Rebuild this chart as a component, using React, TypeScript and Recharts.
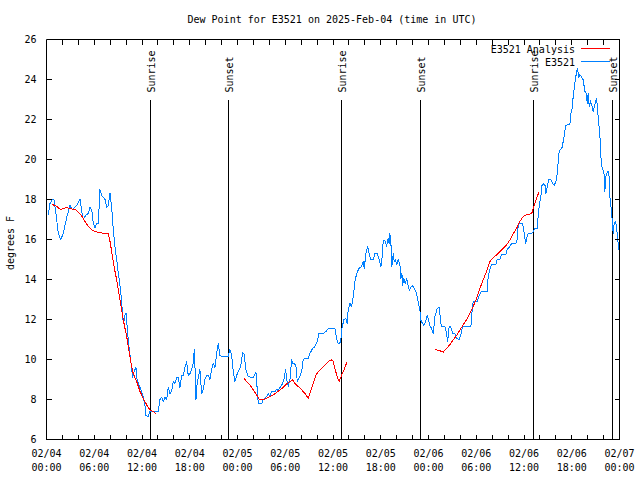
import React from 'react';
import { LineChart, Line, XAxis, YAxis, ReferenceLine } from 'recharts';

const FONT = "'DejaVu Sans Mono', 'Liberation Mono', monospace";

// Observed dew point (E3521), hours since 2025-02-04 00:00 UTC
const obsHours = [
  0.23, 0.44, 0.73, 0.94, 1.19, 1.48, 1.78, 2.11, 2.54, 2.95, 3.08, 3.29, 3.79, 4.21, 4.3, 4.5, 4.62, 4.92,
  5.25, 5.46, 5.68, 5.88, 6.09, 6.31, 6.51, 6.72, 6.93, 7.35, 7.56, 7.76, 7.98, 8.19, 8.39, 8.61, 8.82, 9.02,
  9.15, 9.45, 9.52, 9.65, 9.77, 9.9, 10.03, 10.15, 10.28, 10.4, 10.58, 10.7, 10.83, 11.0, 11.12, 11.24, 11.33,
  11.53, 11.75, 11.96, 12.16, 12.37, 12.5, 12.79, 12.91, 13.0, 14.05, 14.26, 14.47, 14.67, 14.89, 15.1, 15.3,
  15.52, 15.73, 15.93, 16.14, 16.36, 16.56, 16.77, 16.98, 17.19, 17.4, 17.61, 17.81, 18.03, 18.24, 18.44,
  18.57, 18.69, 18.78, 18.87, 19.07, 19.28, 19.49, 19.7, 19.91, 20.13, 20.33, 20.54, 20.75, 20.95, 21.17,
  21.38, 21.58, 21.8, 22.01, 22.84, 23.05, 23.27, 23.47, 23.68, 23.89, 24.22, 24.4, 24.65, 24.81, 25.06,
  25.35, 25.78, 25.98, 26.32, 26.48, 26.61, 27.04, 27.24, 27.66, 27.86, 28.08, 28.29, 28.71, 28.92, 29.12,
  29.33, 29.67, 29.84, 30.05, 30.18, 30.38, 30.59, 30.8, 30.93, 31.09, 31.34, 31.51, 31.85, 32.06, 32.26,
  32.47, 32.89, 33.1, 33.44, 33.73, 34.02, 34.23, 34.77, 35.11, 35.4, 36.24, 36.46, 36.66, 36.96, 37.12,
  37.37, 37.62, 37.79, 37.91, 38.13, 38.34, 38.54, 38.76, 38.97, 39.26, 39.6, 39.8, 39.92, 40.14, 40.35,
  40.55, 40.73, 41.06, 41.27, 41.56, 41.81, 42.02, 42.19, 42.31, 42.52, 42.74, 42.94, 43.06, 43.15, 43.28,
  43.4, 43.57, 43.69, 43.87, 43.99, 44.2, 44.41, 44.54, 44.66, 44.75, 44.91, 45.08, 45.25, 45.45, 45.58,
  45.75, 45.95, 46.17, 46.42, 46.63, 46.8, 46.92, 47.05, 47.26, 47.42, 47.64, 47.84, 48.02, 48.18, 48.39,
  48.59, 48.81, 49.1, 49.35, 49.6, 50.06, 50.28, 50.4, 50.6, 50.78, 51.03, 51.32, 51.53, 51.86, 52.04,
  52.29, 53.33, 53.55, 53.71, 54.12, 54.37, 54.62, 55.38, 55.5, 55.72, 55.93, 56.47, 56.63, 56.97, 57.19,
  57.73, 57.89, 58.23, 58.44, 58.98, 59.15, 59.27, 59.4, 59.82, 59.99, 60.2, 60.33, 60.53, 60.87, 61.08,
  61.37, 61.66, 61.83, 62.0, 62.13, 62.26, 62.42, 62.64, 62.76, 62.89, 63.09, 63.39, 63.59, 63.81, 64.02,
  64.22, 64.35, 64.57, 64.78, 65.05, 65.23, 65.77, 65.89, 66.06, 66.18, 66.39, 66.61, 66.73, 66.9, 67.02,
  67.19, 67.44, 67.65, 67.86, 67.94, 68.07, 68.19, 68.37, 68.57, 68.69, 68.91, 69.12, 69.32, 69.54, 69.66,
  69.82, 70.04, 70.16, 70.29, 70.5, 70.66, 70.79, 71.0, 71.13, 71.21, 71.33, 71.51, 71.63, 71.76, 71.92, 72.0,
];
const obsValues = [
  17.22, 17.8, 18.0, 18.0, 17.3, 16.3, 16.0, 16.3, 17.1, 17.7, 17.6, 17.5, 17.7, 18.0, 17.8, 17.2, 17.0, 17.2,
  17.3, 17.6, 17.5, 16.8, 16.6, 16.8, 16.8, 18.5, 18.2, 18.0, 17.6, 17.7, 18.3, 17.6, 16.5, 15.6, 15.0, 14.3,
  13.98, 12.9, 12.4, 11.8, 12.0, 12.3, 12.3, 11.5, 11.0, 10.5, 10.0, 9.5, 9.1, 9.4, 9.5, 9.6, 9.1,
  8.8, 8.6, 8.4, 8.1, 7.7, 7.2, 7.15, 7.3, 7.4, 7.4, 8.0, 8.1, 7.9, 8.1, 8.0, 8.6,
  8.3, 8.4, 8.9, 8.8, 9.1, 9.1, 8.6, 9.2, 9.2, 9.6, 9.9, 9.2, 9.3, 9.5, 9.8,
  10.5, 9.3, 8.0, 8.6, 9.1, 9.5, 8.3, 8.5, 9.0, 9.2, 9.2, 9.0, 9.5, 9.8, 9.6,
  10.3, 10.8, 10.2, 10.15, 10.15, 10.5, 10.2, 9.4, 8.9, 9.2, 9.5, 9.65, 10.35, 10.3, 9.5,
  9.15, 9.1, 9.1, 9.35, 8.5, 7.8, 7.8, 8.0, 8.15, 8.3, 8.15, 8.4, 8.4, 8.5, 8.45,
  8.6, 8.8, 9.0, 9.5, 9.0, 8.65, 9.0, 10.0, 9.8, 9.8, 9.7, 8.9, 9.15, 9.4, 10.0,
  10.05, 10.05, 10.3, 10.55, 10.65, 10.9, 11.3, 11.3, 11.4, 11.55, 11.55, 11.0, 10.8, 10.85, 11.55,
  12.0, 12.05, 11.8, 12.5, 12.8, 12.65, 13.15, 13.9, 14.3, 14.55, 14.65, 14.9, 14.55, 15.3, 15.65,
  15.3, 14.98, 14.98, 15.3, 15.3, 14.98, 14.65, 15.15, 15.95, 15.95, 15.7, 16.05, 15.8, 16.3, 15.8,
  14.65, 15.3, 14.9, 14.98, 14.73, 15.0, 14.73, 14.05, 14.3, 13.7, 14.05, 13.8, 14.05, 13.7, 13.45,
  13.6, 13.7, 13.6, 13.4, 13.05, 12.7, 12.45, 11.95, 11.8, 11.7, 11.9, 12.2, 11.95, 11.7, 11.55,
  11.3, 12.15, 12.55, 12.6, 11.65, 11.65, 11.3, 10.9, 11.65, 11.65, 11.3, 11.3, 11.05, 11.0, 11.2,
  11.65, 11.65, 12.8, 12.9, 12.9, 13.2, 13.4, 13.4, 14.15, 14.5, 14.75, 14.75, 15.0, 15.0, 15.25,
  15.25, 15.5, 15.65, 15.8, 15.8, 16.0, 16.7, 16.8, 16.8, 16.4, 15.8, 16.05, 16.3, 16.28, 16.35,
  16.55, 16.55, 17.4, 17.9, 18.2, 18.7, 18.78, 18.7, 18.3, 18.55, 18.98, 18.98, 18.8, 18.73, 18.9,
  19.4, 20.3, 20.5, 20.6, 21.15, 21.7, 21.78, 22.3, 22.55, 23.15, 23.8, 24.4, 24.5, 24.1, 24.25,
  24.15, 23.98, 23.4, 23.3, 22.8, 23.3, 22.65, 22.9, 22.65, 22.4, 22.75, 23.08, 22.15, 21.15, 20.15,
  19.55, 19.4, 18.4, 19.15, 19.4, 19.4, 18.15, 17.4, 16.65, 16.3, 16.8, 16.9, 16.65, 16.05, 15.55, 15.15,
];

// Analysis dew point (E3521 Analysis); null marks the gaps
const anaHours = [
  0.65, 0.85, 1.28, 1.78, 2.11, 2.54, 2.95, 3.37, 3.71, 3.99, 4.42, 4.84, 5.25, 5.68, 6.09, 6.63, 7.35, 7.76,
  7.98, 8.19, 8.39, 8.61, 8.82, 9.02, 9.23, 9.45, 9.65, 9.86, 10.08, 10.28, 10.49, 10.7, 10.9, 11.33, 11.75,
  12.16, 12.59, 13.0, 13.42, 13.76,
  19.0,
  24.81, 25.15, 25.57, 25.98, 26.41, 26.73, 27.24, 27.66, 28.08, 28.49, 28.92, 29.33, 29.75, 30.18, 30.59,
  30.93, 31.22, 31.63, 32.06, 32.47, 32.89, 33.1, 33.52, 33.86, 34.15, 34.57, 34.99, 35.4, 35.83, 36.03,
  36.24, 36.46, 36.66, 36.78, 37.09, 37.37, 37.79,
  43.0,
  48.81, 49.35, 49.85, 50.28, 50.69, 51.11, 51.53, 51.95, 52.36, 52.79, 53.2, 53.62, 54.05, 54.46, 54.87,
  55.3, 55.72, 56.13, 56.56, 56.97, 57.39, 57.81, 58.23, 58.64, 59.07, 59.48, 59.9, 60.33, 60.74, 61.03,
  61.16, 61.37, 61.58, 61.91,
];
const anaValues = [
  17.8, 17.73, 17.65, 17.5, 17.55, 17.6, 17.55, 17.5, 17.48, 17.35, 17.18, 16.9, 16.65, 16.48, 16.4, 16.35, 16.3, 16.28,
  15.9, 15.4, 14.9, 14.4, 13.98, 13.48, 12.98, 12.48, 11.98, 11.56, 11.14, 10.64, 10.14, 9.64, 9.3, 8.9, 8.4,
  8.06, 7.73, 7.48, 7.4, 7.3,
  null,
  9.06, 8.9, 8.73, 8.48, 8.23, 8.0, 8.0, 8.06, 8.15, 8.23, 8.36, 8.48, 8.6, 8.78, 8.9,
  8.98, 8.8, 8.65, 8.48, 8.3, 8.06, 8.3, 8.8, 9.23, 9.4, 9.56, 9.73, 9.9, 9.98, 9.9,
  9.56, 9.23, 8.98, 8.9, 9.23, 9.48, 9.9,
  null,
  10.5, 10.45, 10.37, 10.55, 10.75, 10.98, 11.2, 11.48, 11.73, 12.0, 12.3, 12.65, 13.06, 13.56, 13.98,
  14.4, 14.9, 15.1, 15.23, 15.4, 15.56, 15.73, 15.98, 16.28, 16.56, 16.9, 17.15, 17.23, 17.27, 17.35,
  17.56, 17.8, 18.06, 18.4,
];

const sunLabels = ['Sunrise', 'Sunset', 'Sunrise', 'Sunset', 'Sunrise', 'Sunset'];
const sunHours = [13.04, 22.84, 37.04, 46.96, 61.16, 71.08];

const xTicks = [0, 2, 4, 6, 8, 10, 12, 14, 16, 18, 20, 22, 24, 26, 28, 30, 32, 34, 36, 38, 40, 42, 44, 46, 48, 50, 52, 54, 56, 58, 60, 62, 64, 66, 68, 70, 72];
const xLabelHours = [0, 6, 12, 18, 24, 30, 36, 42, 48, 54, 60, 66, 72];
const xLabelDates = ['02/04', '02/04', '02/04', '02/04', '02/05', '02/05', '02/05', '02/05', '02/06', '02/06', '02/06', '02/06', '02/07'];
const xLabelTimes = ['00:00', '06:00', '12:00', '18:00', '00:00', '06:00', '12:00', '18:00', '00:00', '06:00', '12:00', '18:00', '00:00'];
const yTicks = [6, 8, 10, 12, 14, 16, 18, 20, 22, 24, 26];

const series = [
  { name: 'E3521 Analysis', color: '#ff0000' },
  { name: 'E3521', color: '#0080ff' },
];

const obsData = obsHours.map((h, i) => ({ h, v: obsValues[i] }));
const anaData = anaHours.map((h, i) => ({ h, v: anaValues[i] }));

const BottomTick = (props: any) => {
  const { x, y, payload } = props;
  const i = xLabelHours.indexOf(payload.value);
  return (
    <g>
      <line x1={x} y1={y} x2={x} y2={y - 5} stroke="#000" shapeRendering="crispEdges" />
      {i >= 0 && (
        <text x={x} y={y + 17} textAnchor="middle" fontFamily={FONT} fontSize={10} fill="#000">
          <tspan x={x}>{xLabelDates[i]}</tspan>
          <tspan x={x} dy={14}>{xLabelTimes[i]}</tspan>
        </text>
      )}
    </g>
  );
};

const TopTick = (props: any) => {
  const { x, y } = props;
  return <line x1={x} y1={y} x2={x} y2={y + 5} stroke="#000" shapeRendering="crispEdges" />;
};

const LeftTick = (props: any) => {
  const { x, y, payload } = props;
  return (
    <g>
      <line x1={x} y1={y} x2={x + 5} y2={y} stroke="#000" shapeRendering="crispEdges" />
      <text x={x - 10} y={y + 3.6} textAnchor="end" fontFamily={FONT} fontSize={10} fill="#000">
        {payload.value}
      </text>
    </g>
  );
};

const RightTick = (props: any) => {
  const { x, y } = props;
  return <line x1={x} y1={y} x2={x - 5} y2={y} stroke="#000" shapeRendering="crispEdges" />;
};

const sunLabel = (text: string) => (props: any) => {
  const vb = props.viewBox || {};
  const lx = vb.x + 5;
  const ly = vb.y - 7;
  return (
    <text transform={`translate(${lx},${ly}) rotate(-90)`} textAnchor="start" fontFamily={FONT} fontSize={10} fill="#000">
      {text}
    </text>
  );
};

export default function App() {
  return (
    <div style={{ position: 'absolute', left: 0, top: 0, width: 640, height: 480, background: '#fff' }}>
      <LineChart width={640} height={480} data={obsData} margin={{ top: 38.5, right: 19.5, bottom: 39.5, left: 45.5 }}>
        <XAxis
          xAxisId="b"
          dataKey="h"
          type="number"
          domain={[0, 72]}
          ticks={xTicks}
          interval={0}
          allowDataOverflow
          orientation="bottom"
          height={1}
          tickSize={0}
          tickMargin={0}
          tickLine={false}
          axisLine={{ stroke: '#000' }}
          tick={<BottomTick />}
        />
        <XAxis
          xAxisId="t"
          dataKey="h"
          type="number"
          domain={[0, 72]}
          ticks={xTicks}
          interval={0}
          allowDataOverflow
          orientation="top"
          height={1}
          tickSize={0}
          tickMargin={0}
          tickLine={false}
          axisLine={{ stroke: '#000' }}
          tick={<TopTick />}
        />
        <YAxis
          yAxisId="l"
          type="number"
          domain={[6, 26]}
          ticks={yTicks}
          interval={0}
          allowDataOverflow
          orientation="left"
          width={1}
          tickSize={0}
          tickMargin={0}
          tickLine={false}
          axisLine={{ stroke: '#000' }}
          tick={<LeftTick />}
        />
        <YAxis
          yAxisId="r"
          type="number"
          domain={[6, 26]}
          ticks={yTicks}
          interval={0}
          allowDataOverflow
          orientation="right"
          width={1}
          tickSize={0}
          tickMargin={0}
          tickLine={false}
          axisLine={{ stroke: '#000' }}
          tick={<RightTick />}
        />
        {sunHours.map((h, i) => (
          <ReferenceLine
            key={'sun' + i}
            xAxisId="b"
            yAxisId="l"
            segment={[{ x: h, y: 23 }, { x: h, y: 6 }]}
            stroke="#000"
            strokeWidth={1}
            shapeRendering="crispEdges"
            label={sunLabel(sunLabels[i])}
          />
        ))}
        <Line
          xAxisId="b"
          yAxisId="l"
          data={obsData}
          dataKey="v"
          type="linear"
          stroke={series[1].color}
          strokeWidth={1}
          shapeRendering="crispEdges"
          dot={false}
          activeDot={false}
          isAnimationActive={false}
        />
        <Line
          xAxisId="b"
          yAxisId="l"
          data={anaData}
          dataKey="v"
          type="linear"
          stroke={series[0].color}
          strokeWidth={1}
          shapeRendering="crispEdges"
          dot={false}
          activeDot={false}
          connectNulls={false}
          isAnimationActive={false}
        />
      </LineChart>
      <svg width={640} height={480} style={{ position: 'absolute', left: 0, top: 0, pointerEvents: 'none' }}>
        <text x={332} y={22.5} textAnchor="middle" fontFamily={FONT} fontSize={10} fill="#000">
          Dew Point for E3521 on 2025-Feb-04 (time in UTC)
        </text>
        <text transform="translate(13.5,243) rotate(-90)" textAnchor="middle" fontFamily={FONT} fontSize={10} fill="#000">
          degrees F
        </text>
        {series.map((s, i) => (
          <g key={s.name}>
            <text x={575} y={52.8 + i * 13} textAnchor="end" fontFamily={FONT} fontSize={10} fill="#000">
              {s.name}
            </text>
            <line x1={581} x2={610} y1={48.5 + i * 13} y2={48.5 + i * 13} stroke={s.color} strokeWidth={1} shapeRendering="crispEdges" />
          </g>
        ))}
      </svg>
    </div>
  );
}
